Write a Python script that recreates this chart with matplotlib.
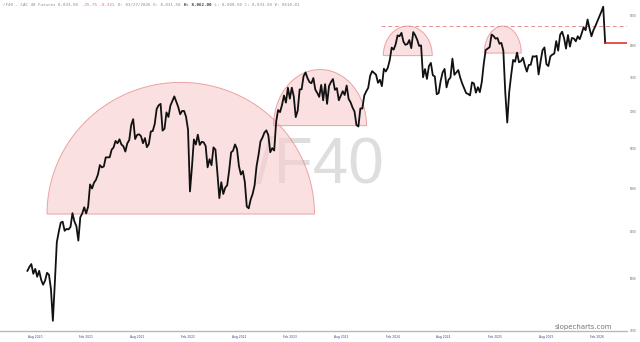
import numpy as np
import pandas as pd
import matplotlib
matplotlib.use("Agg")
import matplotlib.pyplot as plt
import matplotlib.dates as mdates
from matplotlib.patches import Polygon

# weekly closes (first Friday 2020-07-31)
closes = [
    # 2020
    5080, 5120, 5150, 5050, 5100, 5020, 5080, 4990, 4940, 4980, 5060, 5040, 4900,
    4594, 4960, 5380, 5495, 5598, 5609, 5507, 5528, 5522,
    # 2021
    5551, 5706, 5611, 5559, 5399, 5659, 5703, 5774, 5703, 5782, 6046, 5997, 6067,
    6103, 6169, 6287, 6257, 6269, 6385, 6385, 6386, 6484, 6515, 6600, 6569, 6622,
    6553, 6530, 6460, 6568, 6613, 6817, 6896, 6626, 6681, 6689, 6664, 6570, 6638,
    6518, 6559, 6727, 6734, 6830, 7040, 7091, 7112, 6739, 6765, 6991, 6927, 7086, 7153,
    # 2022
    7220, 7143, 7068, 6965, 7011, 7011, 6929, 6752, 5962, 6260, 6620, 6553, 6684,
    6548, 6589, 6581, 6533, 6258, 6362, 6285, 6515, 6485, 6187, 5882, 6073, 5931,
    6007, 6036, 6217, 6449, 6472, 6554, 6495, 6274, 6168, 6212, 6077, 5783, 5762,
    5866, 5932, 6035, 6273, 6416, 6594, 6644, 6712, 6742, 6677, 6452, 6505, 6474,
    # 2023
    6860, 7024, 6995, 7097, 7233, 7130, 7347, 7187, 7348, 7220, 6925, 7015, 7322,
    7324, 7520, 7577, 7491, 7432, 7414, 7492, 7319, 7270, 7213, 7389, 7163, 7400,
    7112, 7372, 7432, 7477, 7316, 7341, 7164, 7229, 7296, 7240, 7379, 7184, 7135,
    7060, 7003, 6816, 6795, 7047, 7045, 7234, 7293, 7346, 7527, 7597, 7569, 7543,
    # 2024
    7420, 7465, 7371, 7634, 7592, 7648, 7768, 7966, 7934, 8018, 8164, 8151, 8206,
    8061, 8011, 8023, 8088, 7957, 8219, 8167, 8094, 7993, 8002, 7503, 7629, 7479,
    7675, 7724, 7534, 7517, 7251, 7269, 7449, 7577, 7631, 7352, 7465, 7500, 7791,
    7541, 7577, 7613, 7497, 7410, 7338, 7269, 7255, 7235, 7427, 7409, 7274, 7355,
    # 2025
    7282, 7431, 7710, 7927, 7950, 7973, 8178, 8154, 8111, 8121, 8028, 8042, 7916,
    7274, 6850, 7285, 7536, 7770, 7743, 7886, 7734, 7751, 7804, 7684, 7590, 7692,
    7696, 7829, 7822, 7834, 7546, 7743, 7923, 7969, 7704, 7675, 7826, 7854, 7870,
    8071, 7918, 8174, 8225, 8121, 7950, 8170, 7982, 8122, 8114, 8068, 8150, 8103,
    # 2026
    8195, 8300, 8250, 8430, 8280, 8150, 8250, 8320, 8400, 8480, 8560, 8650, 8040,
]
dates = pd.date_range("2020-07-31", periods=len(closes), freq="W-FRI")

y_ticks = [4500, 5000, 5500, 6000, 6500, 7000, 7500, 8000, 8500]
x_ticks = ["2020-08-01", "2021-02-01", "2021-08-01", "2022-02-01", "2022-08-01", "2023-02-01",
           "2023-08-01", "2024-02-01", "2024-08-01", "2025-02-01", "2025-08-01", "2026-02-01"]
x_labels = ["Aug 2020", "Feb 2021", "Aug 2021", "Feb 2022", "Aug 2022", "Feb 2023",
            "Aug 2023", "Feb 2024", "Aug 2024", "Feb 2025", "Aug 2025", "Feb 2026"]

# rounded tops: left date, right date, base price, top price
arc_left = ["2020-10-09", "2022-12-28", "2024-01-24", "2025-01-19"]
arc_right = ["2023-05-23", "2023-11-25", "2024-07-17", "2025-05-31"]
arc_base = [5696, 6807, 7838, 7878]
arc_top = [7427, 7622, 8319, 8319]

resistance = 8319
resistance_from = "2024-01-17"
last_price = 8047

fig = plt.figure(figsize=(6.4, 3.42), dpi=100)
ax = fig.add_axes([0, 11 / 342, 627 / 640, 331 / 342])
ax.set_yscale("log")

ax.plot(dates, closes, color="#111111", lw=1.3, zorder=3)

for l, r, b, t in zip(arc_left, arc_right, arc_base, arc_top):
    x0, x1 = mdates.date2num(pd.Timestamp(l)), mdates.date2num(pd.Timestamp(r))
    th = np.linspace(0, np.pi, 120)
    xs = (x0 + x1) / 2 + (x1 - x0) / 2 * np.cos(th)
    ys = np.exp(np.log(b) + (np.log(t) - np.log(b)) * np.sin(th))
    ax.add_patch(Polygon(np.column_stack([xs, ys]), closed=True, facecolor="#f8cccc",
                         alpha=0.6, edgecolor="#e07070", lw=0.7, zorder=2))

ax.plot([pd.Timestamp(resistance_from), pd.Timestamp("2026-06-13")], [resistance, resistance],
        color="#e89090", lw=0.7, ls=(0, (4, 3)), zorder=2)
ax.plot([dates[-1], pd.Timestamp("2026-06-13")], [last_price, last_price],
        color="#e02020", lw=1.1, zorder=4)

ax.text(0.51, 0.50, "/F40", transform=ax.transAxes, fontsize=46, color="#dedede",
        family="Liberation Sans", ha="center", va="center", zorder=1)

ax.set_xlim(pd.Timestamp("2020-04-24"), pd.Timestamp("2026-06-13"))
ax.set_ylim(4554, 8768)

ax.yaxis.tick_right()
ax.set_yticks(y_ticks)
ax.set_yticklabels([str(v) for v in y_ticks])
ax.yaxis.set_minor_locator(matplotlib.ticker.NullLocator())
ax.tick_params(axis="y", length=0, labelsize=2.0, labelcolor="#666666", pad=2)
ax.set_xticks([pd.Timestamp(d) for d in x_ticks])
ax.set_xticklabels(x_labels, ha="left")
ax.tick_params(axis="x", length=0, labelsize=2.2, labelcolor="#3c4a8a", pad=3)

for s in ["top", "left", "right"]:
    ax.spines[s].set_visible(False)
ax.spines["bottom"].set_color("#b8b8b8")
ax.spines["bottom"].set_linewidth(1.0)

# header line
cw = 2.55 / 640
parts = [("/F40 - CAC 40 Futures 8,033.50 ", "#8a8a8a", "normal"),
         ("-25.75 -0.32% ", "#e07070", "normal"),
         ("D: 03/27/2026 O: 8,031.50 ", "#8a8a8a", "normal"),
         ("H: 8,062.00", "#333333", "bold"),
         (" L: 8,000.50 C: 8,033.50 V: 8610.01", "#8a8a8a", "normal")]
x = 3 / 640
for txt, col, wt in parts:
    fig.text(x, 1 - 5 / 342, txt, fontsize=3.0, family="DejaVu Sans Mono", color=col,
             weight=wt, va="center", ha="left")
    x += len(txt) * cw

fig.text(583 / 640, 1 - 327 / 342, "slopecharts.com", fontsize=5, color="#777777",
         ha="center", va="center")

fig.savefig("out.png", dpi=100)
